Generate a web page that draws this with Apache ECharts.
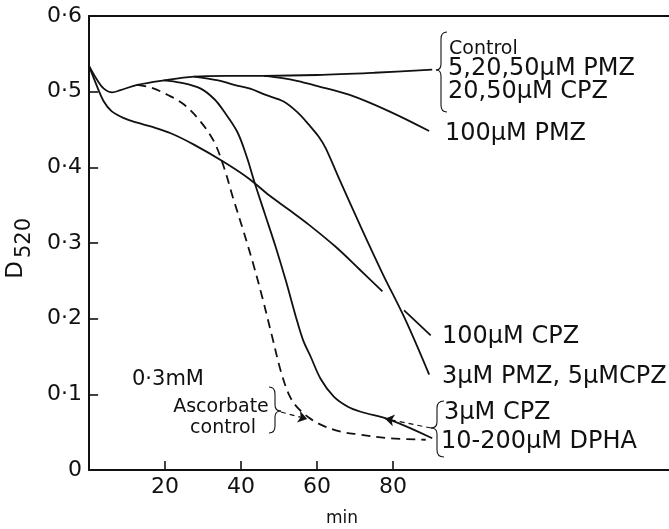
<!DOCTYPE html>
<html>
<head>
<meta charset="utf-8">
<script src="https://cdn.jsdelivr.net/npm/echarts@6/dist/echarts.min.js"></script>
<style>
  html, body { margin: 0; padding: 0; background: #fff; }
  #chart { width: 669px; height: 529px; }
</style>
</head>
<body>
<div id="chart"></div>
<script>
/* ---------- data (min, D520) ---------- */
const xTicks = [20, 40, 60, 80];
const yTicks = [0.1, 0.2, 0.3, 0.4, 0.5];

// control, 5-50 uM PMZ, 20-50 uM CPZ
const controlCurve = [[0, 0.534], [2.2, 0.515], [3.9, 0.504], [6.1, 0.499], [8.3, 0.502], [12.7, 0.509],
  [19.7, 0.515], [27.6, 0.520], [36, 0.521], [46, 0.521], [60, 0.522], [75, 0.525], [90.3, 0.529]];
// 100 uM PMZ
const pmz100Curve = [[46, 0.521], [50.9, 0.518], [55, 0.514], [59.6, 0.508], [68.4, 0.496], [79, 0.474], [89.5, 0.448]];
// 3 uM PMZ, 5 uM CPZ
const pmz3Curve = [[27.6, 0.520], [34, 0.515], [38.2, 0.509], [42.4, 0.504], [46.3, 0.496], [51.2, 0.487],
  [55, 0.472], [57.9, 0.456], [60.5, 0.440], [62.3, 0.425], [65.8, 0.385], [71.9, 0.317], [77.2, 0.260],
  [83.3, 0.198], [89.5, 0.126]];
// 3 uM CPZ, 10-200 uM DPHA
const cpz3Curve = [[19.7, 0.515], [24, 0.512], [29.4, 0.504], [33, 0.490], [35.5, 0.474], [39, 0.447],
  [41.5, 0.414], [43.5, 0.381], [46.3, 0.338], [49.1, 0.295], [51.8, 0.250], [54.4, 0.203], [56.3, 0.172],
  [58.3, 0.150], [61, 0.120], [64.4, 0.097], [68, 0.084], [71.5, 0.077], [79.4, 0.066], [90.3, 0.042]];
// 100 uM CPZ (broken where it crosses)
const cpz100Curve = [[0, 0.534], [1.8, 0.511], [3.9, 0.487], [6, 0.474], [9.2, 0.465], [12.7, 0.459],
  [16.2, 0.454], [21.5, 0.445], [27.6, 0.430], [35.5, 0.407], [42.1, 0.385], [47.4, 0.363], [52.6, 0.344],
  [57.9, 0.324], [64.9, 0.295], [71, 0.266], [77.2, 0.236]];
const cpz100Tail = [[82.9, 0.211], [89.9, 0.178]];
// 0.3 mM ascorbate control (dashed)
const ascorbateCurve = [[12.7, 0.509], [16.5, 0.505], [20.6, 0.496], [25, 0.483], [29.4, 0.460], [32.9, 0.434],
  [35.5, 0.400], [38, 0.358], [40.5, 0.318], [43, 0.276], [45.5, 0.230], [48, 0.180], [50.5, 0.130],
  [52.5, 0.101], [54.4, 0.085], [57.9, 0.069], [61.4, 0.059], [66, 0.051], [71, 0.047], [78.9, 0.042], [88.6, 0.040]];

// pointer arrows (from label brace to curve)
const cpzPointer = [[90, 0.0555], [77.9, 0.0678]];
const ascPointer = [[50.5, 0.0767], [57.4, 0.0674]];

/* ---------- style ---------- */
const ink = "#111";
const font = "DejaVu Sans";
const X_MAX = 152.6;
const TICK_X = 2.4;   // y-axis tick length in minutes (~9px)
const TICK_Y = 0.012; // x-axis tick length in D (~9px)

function curve(data, dashed) {
  return {
    type: "line",
    data: data,
    smooth: 0.35,
    showSymbol: false,
    silent: true,
    lineStyle: { color: ink, width: 1.8, type: dashed ? [9, 6] : "solid" },
  };
}

function pointer(series, pts) {
  series.markLine = {
    silent: true,
    symbol: ["none", "arrow"],
    symbolSize: 9,
    label: { show: false },
    lineStyle: { color: ink, width: 1.2, type: [5, 4] },
    data: [[{ coord: pts[0] }, { coord: pts[1] }]],
  };
  return series;
}

/* inward ticks, placed through the axes' own scale */
function ticks(series) {
  series.markLine = {
    silent: true,
    symbol: "none",
    label: { show: false },
    lineStyle: { color: ink, width: 1.6, type: "solid" },
    data: [
      ...xTicks.map((v) => [{ coord: [v, 0] }, { coord: [v, TICK_Y] }]),
      ...yTicks.map((v) => [{ coord: [0, v] }, { coord: [TICK_X, v] }]),
    ],
  };
  return series;
}

function txt(x, y, text, size, align) {
  return {
    type: "text",
    x: x,
    y: y,
    silent: true,
    style: { text: text, fill: ink, fontSize: size, fontFamily: font, align: align || "left", verticalAlign: "middle" },
  };
}

/* brace: edge x, stem x, tip x, top y, tip y, bottom y */
function brace(xe, xm, xt, yt, yc, yb) {
  const st = { stroke: ink, lineWidth: 1.1, fill: null };
  const q = (x1, y1, cx, cy, x2, y2) => ({ type: "bezierCurve", silent: true, shape: { x1, y1, cpx1: cx, cpy1: cy, x2, y2 }, style: st });
  const l = (x1, y1, x2, y2) => ({ type: "line", silent: true, shape: { x1, y1, x2, y2 }, style: st });
  return {
    type: "group",
    children: [
      q(xe, yt, xm, yt, xm, yt + 7),
      l(xm, yt + 7, xm, yc - 6),
      q(xm, yc - 6, xm, yc, xt, yc),
      q(xt, yc, xm, yc, xm, yc + 6),
      l(xm, yc + 6, xm, yb - 7),
      q(xm, yb - 7, xm, yb, xe, yb),
    ],
  };
}

const chart = echarts.init(document.getElementById("chart"), null, { renderer: "canvas" });

chart.setOption({
  animation: false,
  backgroundColor: "#fff",
  grid: { left: 89, right: 0, top: 16, bottom: 59 },
  xAxis: [
    {
      type: "value",
      min: 0,
      max: X_MAX,
      interval: 20,
      axisLine: { lineStyle: { color: ink, width: 2 } },
      axisTick: { show: false },
      axisLabel: { customValues: xTicks, color: ink, fontSize: 22, fontFamily: font, margin: 6 },
      splitLine: { show: false },
    },
    {
      type: "value",
      position: "top",
      min: 0,
      max: X_MAX,
      axisLine: { show: true, lineStyle: { color: ink, width: 2 } },
      axisTick: { show: false },
      axisLabel: { show: false },
      splitLine: { show: false },
    },
  ],
  yAxis: {
    type: "value",
    min: 0,
    max: 0.6,
    interval: 0.1,
    axisLine: { show: true, lineStyle: { color: ink, width: 2 } },
    axisTick: { show: false },
    axisLabel: {
      color: ink,
      fontSize: 22,
      fontFamily: font,
      margin: 7,
      formatter: (v) => (v === 0 ? "0" : v.toFixed(1).replace(".", "·")),
    },
    splitLine: { show: false },
  },
  series: [
    ticks(curve(controlCurve)),
    curve(pmz100Curve),
    curve(pmz3Curve),
    pointer(curve(cpz3Curve), cpzPointer),
    curve(cpz100Curve),
    curve(cpz100Tail),
    pointer(curve(ascorbateCurve, true), ascPointer),
  ],
  graphic: [
    /* axis titles */
    { type: "text", x: 16, y: 270, rotation: Math.PI / 2, silent: true,
      style: { text: "D", fill: ink, fontSize: 23, fontFamily: font, align: "center", verticalAlign: "middle" } },
    { type: "text", x: 25, y: 238, rotation: Math.PI / 2, silent: true,
      style: { text: "520", fill: ink, fontSize: 21, fontFamily: font, align: "center", verticalAlign: "middle" } },
    txt(342, 519, "min", 17, "center"),

    /* right-hand labels */
    brace(447, 441, 436, 32, 70, 112),
    txt(449, 49, "Control", 19),
    txt(448, 69, "5,20,50μM PMZ", 24),
    txt(448, 92, "20,50μM CPZ", 24),
    txt(445, 134, "100μM PMZ", 24),
    txt(442, 337, "100μM CPZ", 24),
    txt(442, 377, "3μM PMZ, 5μMCPZ", 24),
    brace(444, 437, 431, 401, 428, 457),
    txt(444, 413, "3μM CPZ", 24),
    txt(441, 442, "10-200μM DPHA", 24),

    /* ascorbate note */
    txt(132, 380, "0·3mM", 21),
    txt(221, 407, "Ascorbate", 19, "center"),
    txt(223, 428, "control", 19, "center"),
    brace(269, 275, 281, 387, 411, 433),
  ],
});
</script>
</body>
</html>
